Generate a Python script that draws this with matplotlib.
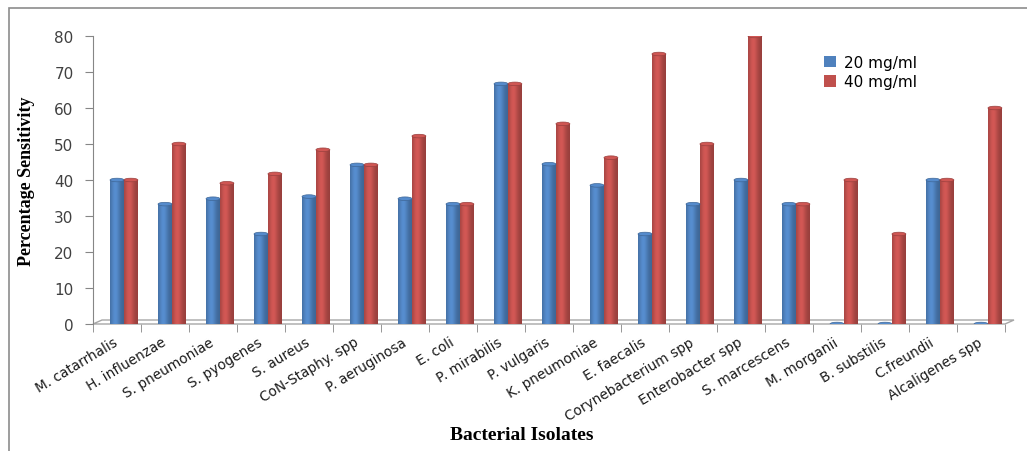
import numpy as np
import matplotlib.pyplot as plt
from matplotlib.colors import to_rgb
from matplotlib.patches import Ellipse, Rectangle, Polygon

# Data
isolates = ['M. catarrhalis', 'H. influenzae', 'S. pneumoniae', 'S. pyogenes', 'S. aureus',
            'CoN-Staphy. spp', 'P. aeruginosa', 'E. coli', 'P. mirabilis', 'P. vulgaris',
            'K. pneumoniae', 'E. faecalis', 'Corynebacterium spp', 'Enterobacter spp',
            'S. marcescens', 'M. morganii', 'B. substilis', 'C.freundii', 'Alcaligenes spp']
conc_20 = [40, 33.3, 34.8, 25, 35.4, 44.2, 34.8, 33.3, 66.7, 44.4,
           38.5, 25, 33.3, 40, 33.3, 0, 0, 40, 0]
conc_40 = [40, 50, 39.1, 41.7, 48.4, 44.2, 52.2, 33.3, 66.7, 55.6,
           46.2, 75, 50, 80, 33.3, 40, 25, 40, 60]
series_labels = ['20 mg/ml', '40 mg/ml']
yticks = list(range(0, 90, 10))

blue = '#4F81BD'
red = '#C0504D'


def cylinder(base):
    # horizontal shading so the bars look like Excel cylinders
    c = np.array(to_rgb(base))
    t = np.linspace(0, 1, 40)
    k = 0.78 + 0.32 * np.exp(-((t - 0.38) / 0.35) ** 2)
    return np.clip(c[None, :] * k[:, None], 0, 1)[None, :, :]


fig = plt.figure(figsize=(10.27, 4.52), dpi=100)
ax = fig.add_axes([93 / 1027, 1 - 325 / 452, 912 / 1027, 288 / 452])

x = np.arange(len(isolates))
w = 0.29
bars_a = ax.bar(x, conc_20, w, color=blue, label=series_labels[0], zorder=3)
bars_b = ax.bar(x + w, conc_40, w, color=red, label=series_labels[1], zorder=3)

for bars, col in [(bars_a, blue), (bars_b, red)]:
    img = cylinder(col)
    for p in bars:
        x0, wd, h = p.get_x(), p.get_width(), p.get_height()
        if h > 0:
            im = ax.imshow(img, extent=[x0, x0 + wd, 0, h], aspect='auto', zorder=4,
                           interpolation='bilinear')
            im.set_clip_path(p)
        top = np.clip(np.array(to_rgb(col)) * 1.08, 0, 1)
        ax.add_patch(Ellipse((x0 + wd / 2, h), wd, 1.0, facecolor=top,
                             edgecolor=np.array(to_rgb(col)) * 0.8, lw=0.5, zorder=5))

ax.set_xlim(-0.5, len(isolates) - 0.5)
ax.set_ylim(0, 80)

# y axis
ax.set_yticks(yticks)
ax.tick_params(axis='y', length=6, color='#868686', pad=8, labelsize=11,
               labelcolor='#404040')
for s in ['top', 'right', 'bottom']:
    ax.spines[s].set_visible(False)
ax.spines['left'].set_color('#868686')

# x axis: ticks between categories, labels under categories
ax.set_xticks(x)
ax.set_xticks(np.arange(-0.5, len(isolates)), minor=True)
ax.set_xticklabels(isolates, rotation=31, ha='right', va='center',
                   rotation_mode='anchor', fontsize=9.8, color='#1a1a1a')
ax.tick_params(axis='x', which='major', length=0, pad=12)
ax.tick_params(axis='x', which='minor', length=6, color='#868686')

# 3-D floor
dx, dy = 9 / 912, 4 / 288
ax.add_patch(Polygon([(0, 0), (1, 0), (1 + dx, dy), (dx, dy)], closed=True,
                     facecolor='none', edgecolor='#a6a6a6', lw=1,
                     transform=ax.transAxes, clip_on=False, zorder=2))

ax.set_ylabel('Percentage Sensitivity', family='Liberation Serif', fontweight='bold',
              fontsize=13, labelpad=14)
ax.set_xlabel('Bacterial Isolates', family='Liberation Serif', fontweight='bold',
              fontsize=14)
ax.xaxis.set_label_coords(0.47, -0.355)

fig.legend(handles=[bars_a, bars_b], loc='upper left',
           bbox_to_anchor=(810 / 1027, 1 - 42 / 452), frameon=False,
           handlelength=0.8, handleheight=0.8, handletextpad=0.5,
           labelspacing=0.3, fontsize=11)

# outer frame (only the left and top edges fall inside the picture)
fig.add_artist(Rectangle((9 / 1027, -0.1), 2, 1.1 - 9 / 452, transform=fig.transFigure,
                         fill=False, edgecolor='#8c8c8c', lw=1.2))

fig.savefig('out.png', dpi=100)
